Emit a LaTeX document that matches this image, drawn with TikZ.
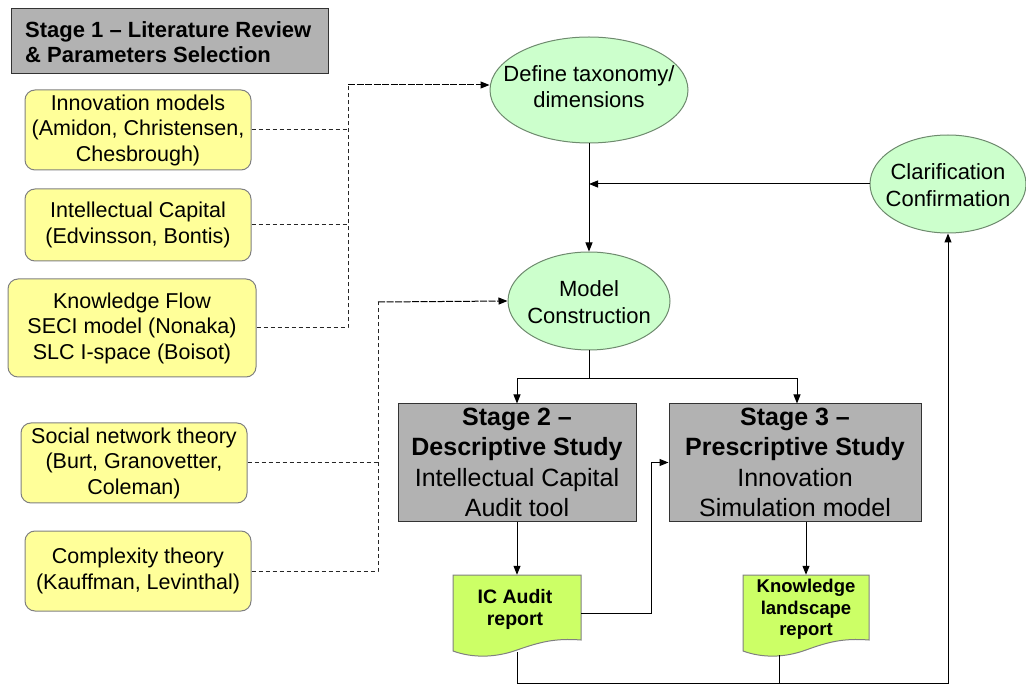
\documentclass[tikz,border=0pt]{standalone}
\usepackage{fontspec}
\setmainfont{Liberation Sans}
\usetikzlibrary{shapes.geometric,arrows.meta,calc}
\definecolor{litfill}{HTML}{FFFF99}
\definecolor{stagefill}{HTML}{B2B2B2}
\definecolor{ovalfill}{HTML}{CCFFCC}
\definecolor{docfill}{HTML}{CCFF66}
\definecolor{ovalline}{HTML}{6E8A6E}

\begin{document}
\begin{tikzpicture}[x=1pt,y=-1pt,
  lit/.style={draw=black!50, fill=litfill, rounded corners=10pt, line width=1pt,
    align=center, inner sep=0pt, font=\fontsize{21.5}{25.5}\selectfont},
  stagebox/.style={draw=black!80, fill=stagefill, line width=1pt, inner sep=0pt,
    align=center, font=\fontsize{25}{30.5}\selectfont},
  oval/.style={ellipse, draw=ovalline, fill=ovalfill, line width=1pt, inner sep=0pt},
  ovaltext/.style={align=center, inner sep=0pt, font=\fontsize{22}{26.5}\selectfont},
  docbody/.style={draw=black!50, fill=docfill, line width=1pt},
  doctext/.style={align=center, inner sep=0pt, font=\bfseries\fontsize{18.5}{21.5}\selectfont},
  ln/.style={line width=1pt, draw=black},
  arr/.style={ln, -{Triangle[length=9pt,width=7pt]}},
  dsh/.style={line width=1pt, draw=black!85, dash pattern=on 4pt off 3pt},
  densedsh/.style={dash pattern=on 7pt off 1.5pt}
]
\useasboundingbox (0,0) rectangle (1026,684);

% Stage 1 heading
\node[draw=black!80, fill=stagefill, line width=1pt, minimum width=317, minimum height=65,
  inner sep=0pt] (s1) at (169.5,41.5) {};
\node[anchor=west, align=left, inner sep=0pt,
  font=\bfseries\fontsize{22}{25}\selectfont] at (25,42.5)
  {Stage 1 -- Literature Review\\\& Parameters Selection};

% literature boxes
\node[lit, minimum width=226, minimum height=80] (inn) at (138,130)
  {Innovation models\\(Amidon, Christensen,\\Chesbrough)};
\node[lit, minimum width=226, minimum height=72] (icap) at (138,225)
  {Intellectual Capital\\(Edvinsson, Bontis)};
\node[lit, minimum width=248, minimum height=98] (kf) at (132,328)
  {Knowledge Flow\\SECI model (Nonaka)\\SLC I-space (Boisot)};
\node[lit, minimum width=226, minimum height=80] (soc) at (134,463)
  {Social network theory\\(Burt, Granovetter,\\Coleman)};
\node[lit, minimum width=226, minimum height=80] (cpx) at (138,571)
  {Complexity theory\\(Kauffman, Levinthal)};

% ovals
\node[oval, minimum width=198, minimum height=106] (def) at (589,90) {};
\node[ovaltext] at (589,86.5) {Define taxonomy/\\dimensions};
\node[oval, minimum width=162, minimum height=98] (model) at (589,301) {};
\node[ovaltext] at (589,302) {Model\\Construction};
\node[oval, minimum width=156, minimum height=98] (clar) at (948,184) {};
\node[ovaltext] at (948,185) {Clarification\\Confirmation};

% stage 2 and 3
\node[stagebox, minimum width=238, minimum height=117] (s2) at (517,462.5)
  {\textbf{Stage 2 --}\\\textbf{Descriptive Study}\\Intellectual Capital\\Audit tool};
\node[stagebox, minimum width=252, minimum height=117] (s3) at (795,462.5)
  {\textbf{Stage 3 --}\\\textbf{Prescriptive Study}\\Innovation\\Simulation model};

% report documents
\node[minimum width=128, minimum height=77, inner sep=0pt] (ica) at (517,613.5) {};
\filldraw[docbody] (453,575) -- (581,575) -- (581,640)
  .. controls (555,638) and (540,642) .. (517,650)
  .. controls (495,658) and (472,658) .. (453,651) -- cycle;
\node[doctext, font=\bfseries\fontsize{19.5}{22}\selectfont] at (515,609) {IC Audit\\report};

\node[minimum width=126, minimum height=77, inner sep=0pt] (kl) at (806,613.5) {};
\filldraw[docbody] (743,575) -- (869,575) -- (869,640)
  .. controls (843,638) and (828,642) .. (806,650)
  .. controls (784,658) and (762,658) .. (743,651) -- cycle;
\node[doctext] at (806,609.5) {Knowledge\\landscape\\report};

% junction points
\coordinate (ja) at (348,85);
\coordinate (jb) at (378,302);
\coordinate (kb) at (779,655);
\coordinate (bot) at (517,683);

% literature feeding the ovals
\draw[dsh] (inn.east) -- (inn.east -| ja);
\draw[dsh] (icap.east) -- (icap.east -| ja);
\draw[dsh] (kf.east) -- (kf.east -| ja) -- (ja);
\draw[arr, densedsh] (ja) -- (ja -| def.west);
\draw[dsh] (soc.east) -- (soc.east -| jb);
\draw[dsh] (cpx.east) -- (cpx.east -| jb) -- (jb);
\draw[arr, densedsh] (jb) -- (model.west);

% main flow
\draw[arr] (def.south) -- (model.north);
\draw[arr] (clar.west) -- (clar.west -| def.south);
\draw[arr] (model.south) -- ++(0,28) -| (s2.north);
\draw[arr] (model.south) -- ++(0,28) -| ([xshift=2pt]s3.north);
\draw[arr] (s2.south) -- (ica.north);
\draw[arr] (s3.south -| kl.north) -- (kl.north);
\draw[arr] (ica.east) -| ($(s3.west)+(-17,0)$) -- (s3.west);
\draw[arr] (ica.south) -- (bot) -| (clar.south);
\draw[ln] (kb) -- (kb |- bot);
\end{tikzpicture}
\end{document}
